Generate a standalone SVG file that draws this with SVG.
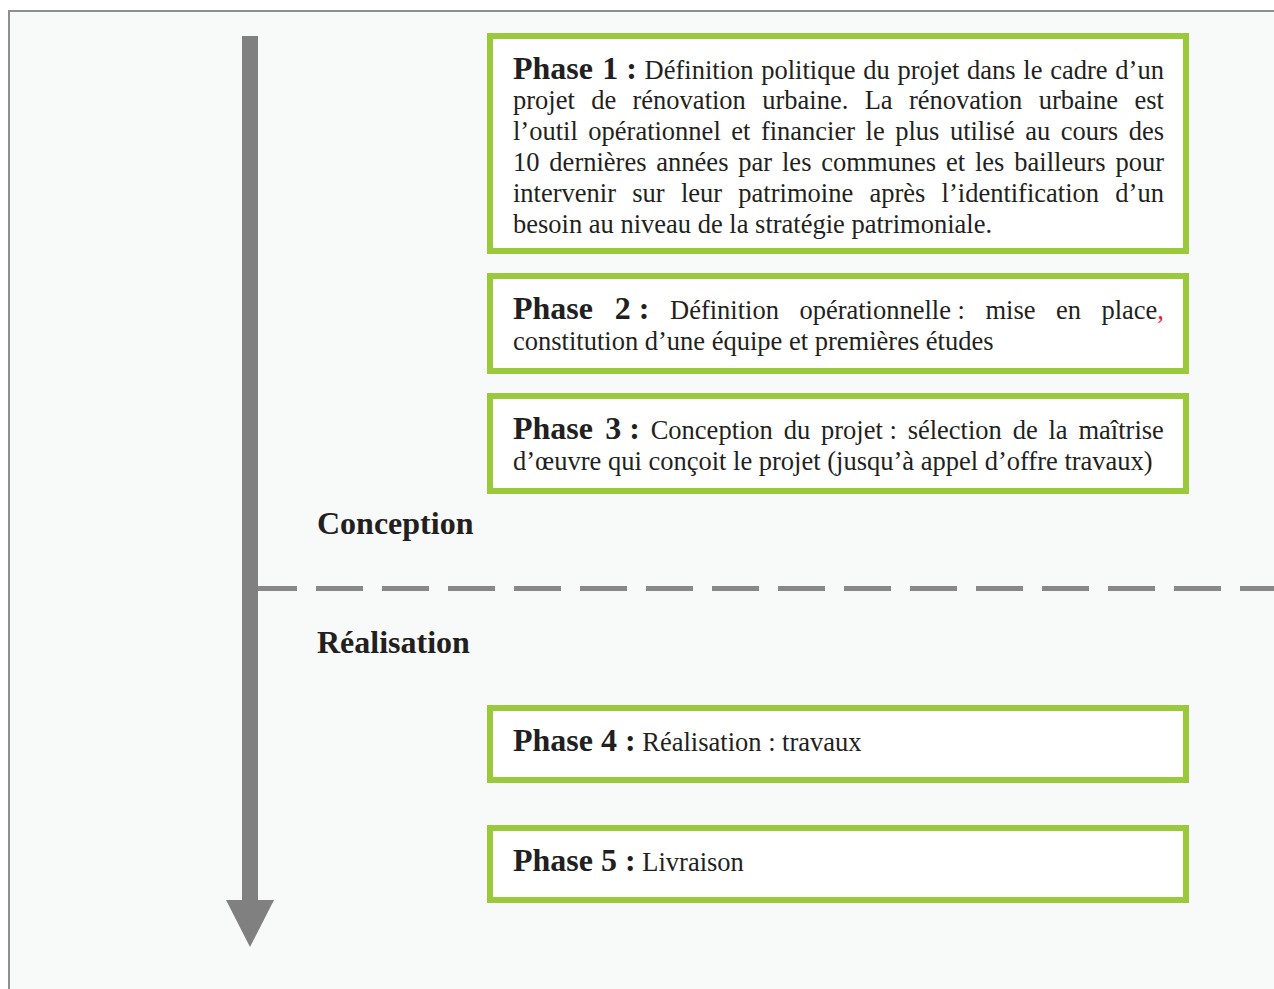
<svg xmlns="http://www.w3.org/2000/svg" width="1274" height="989" viewBox="0 0 1274 989">
  <style>
    .r { font-family: "Liberation Serif", "Times New Roman", serif; font-size: 26.5px; fill: #231f20; }
    .b { font-family: "Liberation Serif", "Times New Roman", serif; font-size: 32px; font-weight: bold; fill: #231f20; }
    .box { fill: #ffffff; stroke: #9aca3c; stroke-width: 6; }
    .red { fill: #e31e24; }
  </style>
  <rect x="0" y="0" width="1274" height="989" fill="#ffffff"/>
  <rect x="9" y="11" width="1300" height="1000" fill="#f8f9f9" stroke="#8f8f8f" stroke-width="2"/>

  <g id="connectors">
    <line x1="250" y1="588.5" x2="1274" y2="588.5" stroke="#888888" stroke-width="5" stroke-dasharray="47 19"/>
    <rect x="242" y="36" width="16" height="865" fill="#808080"/>
    <polygon points="226,900 274,900 250,947" fill="#808080"/>
  </g>

  <g id="label-conception">
    <text x="317" y="533.5" class="b">Conception</text>
  </g>
  <g id="label-realisation">
    <text x="317" y="653" class="b">Réalisation</text>
  </g>

  <g id="phase1">
    <rect class="box" x="490" y="36" width="696" height="215"/>
    <text x="513" y="78.5" class="r" word-spacing="1.13"><tspan class="b">Phase 1<tspan word-spacing="0"> :</tspan></tspan> Définition politique du projet dans le cadre d’un</text>
    <text x="513" y="109.4" class="r" word-spacing="9.73">projet de rénovation urbaine. La rénovation urbaine est</text>
    <text x="513" y="140.2" class="r" word-spacing="3.89">l’outil opérationnel et financier le plus utilisé au cours des</text>
    <text x="513" y="171.1" class="r" word-spacing="3.24">10 dernières années par les communes et les bailleurs pour</text>
    <text x="513" y="201.9" class="r" word-spacing="9.63">intervenir sur leur patrimoine après l’identification d’un</text>
    <text x="513" y="232.8" class="r">besoin au niveau de la stratégie patrimoniale.</text>
  </g>

  <g id="phase2">
    <rect class="box" x="490" y="276" width="696" height="95"/>
    <text x="513" y="318.5" class="r" word-spacing="13.85"><tspan class="b">Phase 2<tspan word-spacing="0"> :</tspan></tspan> Définition opérationnelle<tspan word-spacing="0"> :</tspan> mise en place<tspan class="red">,</tspan></text>
    <text x="513" y="349.5" class="r">constitution d’une équipe et premières études</text>
  </g>

  <g id="phase3">
    <rect class="box" x="490" y="396" width="696" height="95"/>
    <text x="513" y="438.5" class="r" word-spacing="4.2"><tspan class="b">Phase 3<tspan word-spacing="0"> :</tspan></tspan> Conception du projet<tspan word-spacing="0"> :</tspan> sélection de la maîtrise</text>
    <text x="513" y="469.5" class="r">d’œuvre qui conçoit le projet (jusqu’à appel d’offre travaux)</text>
  </g>

  <g id="phase4">
    <rect class="box" x="490" y="708" width="696" height="72"/>
    <text x="513" y="750.5" class="r"><tspan class="b">Phase 4 :</tspan> Réalisation : travaux</text>
  </g>

  <g id="phase5">
    <rect class="box" x="490" y="828" width="696" height="72"/>
    <text x="513" y="870.5" class="r"><tspan class="b">Phase 5 :</tspan> Livraison</text>
  </g>
</svg>
